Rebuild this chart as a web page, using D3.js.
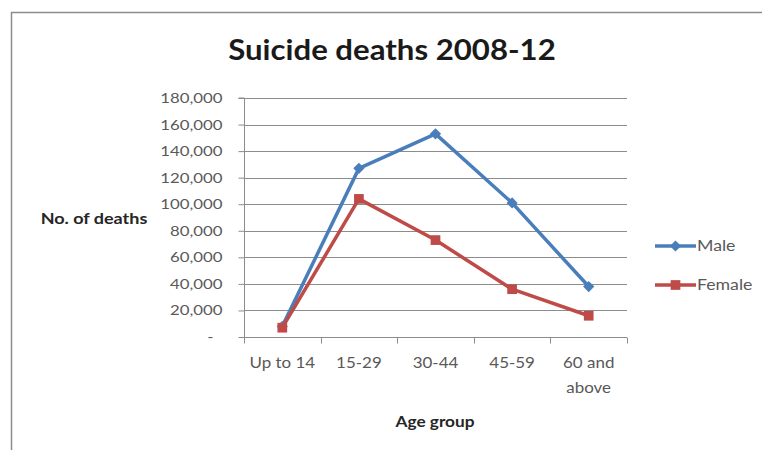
<!DOCTYPE html>
<html>
<head>
<meta charset="utf-8">
<script src="https://cdn.jsdelivr.net/npm/d3@7"></script>
<style>
  html, body { margin: 0; padding: 0; background: #fff; }
  svg { display: block; }
</style>
</head>
<body>
<svg id="chart" width="762" height="450"></svg>
<script>
// Suicide deaths by age group, 2008-12
const ageGroups = ["Up to 14", "15-29", "30-44", "45-59", "60 and above"];
const maleDeaths = [8000, 127000, 153000, 101000, 38000];
const femaleDeaths = [7000, 104000, 73000, 36000, 16000];
const yTicks = [0, 20000, 40000, 60000, 80000, 100000, 120000, 140000, 160000, 180000];

const series = [
  { name: "Male", values: maleDeaths, color: "#4a7ebb", marker: "diamond" },
  { name: "Female", values: femaleDeaths, color: "#be4b48", marker: "square" }
];

const font = "Lato, 'Open Sans', sans-serif";
const svg = d3.select("#chart");

// widen text horizontally about its anchor point
function stretch(sel, sx) {
  sel.each(function () {
    const t = d3.select(this);
    const x0 = +t.attr("x") || 0;
    t.attr("x", 0);
    t.selectAll("tspan").attr("x", 0);
    t.attr("transform", `translate(${x0},0) scale(${sx},1)`);
  });
}

// chart frame
svg.append("path")
  .attr("d", "M11.5,450 V12.5 H762")
  .attr("fill", "none")
  .attr("stroke", "#8c8c8c")
  .attr("stroke-width", 1.5);

const plot = { left: 244, right: 627, top: 98, bottom: 337 };

const x = d3.scaleBand().domain(ageGroups).range([plot.left, plot.right]);
const y = d3.scaleLinear().domain([0, 180000]).range([plot.bottom, plot.top]);

// title
svg.append("text")
  .attr("x", 392).attr("y", 60)
  .attr("text-anchor", "middle")
  .attr("font-family", font).attr("font-weight", 700)
  .attr("font-size", 29).attr("fill", "#1a1a1a")
  .text("Suicide deaths 2008-12")
  .call(stretch, 1.075);

// horizontal gridlines
svg.append("g")
  .selectAll("line")
  .data(yTicks.filter(d => d > 0))
  .join("line")
  .attr("x1", plot.left).attr("x2", plot.right)
  .attr("y1", d => Math.round(y(d)) + 0.5).attr("y2", d => Math.round(y(d)) + 0.5)
  .attr("stroke", "#8c8c8c").attr("stroke-width", 1);

// y axis (accounting-style dash for zero)
const yAxis = svg.append("g")
  .attr("transform", `translate(${plot.left + 0.5},0)`)
  .call(d3.axisLeft(y).tickValues(yTicks).tickSize(6).tickPadding(16)
    .tickFormat(d => d === 0 ? "-" : d3.format(",")(d)));
yAxis.select(".domain").attr("stroke", "#8c8c8c").attr("d", `M-6,${y(180000)}H0V${y(0)}`);
yAxis.selectAll(".tick line").attr("stroke", "#8c8c8c");
yAxis.selectAll(".tick text")
  .attr("font-family", font).attr("font-size", 14).attr("fill", "#595959")
  .attr("x", d => d === 0 ? -31 : -22)
  .call(stretch, 1.2);

// x axis with boundary ticks between categories
const xAxisG = svg.append("g").attr("transform", `translate(0,${Math.round(plot.bottom) + 0.5})`);
xAxisG.append("line")
  .attr("x1", plot.left).attr("x2", plot.right)
  .attr("stroke", "#8c8c8c");
xAxisG.selectAll("line.bound")
  .data(d3.range(ageGroups.length + 1))
  .join("line")
  .attr("class", "bound")
  .attr("x1", i => Math.round(plot.left + i * x.step()) + 0.5)
  .attr("x2", i => Math.round(plot.left + i * x.step()) + 0.5)
  .attr("y1", 0).attr("y2", 6)
  .attr("stroke", "#8c8c8c");

const xLabels = svg.append("g");
ageGroups.forEach(g => {
  const words = g === "60 and above" ? ["60 and", "above"] : [g];
  const t = xLabels.append("text")
    .attr("x", x(g) + x.bandwidth() / 2)
    .attr("y", 368)
    .attr("text-anchor", "middle")
    .attr("font-family", font).attr("font-size", 15).attr("fill", "#595959");
  words.forEach((w, i) => {
    t.append("tspan").attr("x", x(g) + x.bandwidth() / 2).attr("dy", i === 0 ? 0 : 25).text(w);
  });
  t.call(stretch, 1.13);
});

// axis titles
svg.append("text")
  .attr("x", 94).attr("y", 224)
  .attr("text-anchor", "middle")
  .attr("font-family", font).attr("font-weight", 700)
  .attr("font-size", 15).attr("fill", "#262626")
  .text("No. of deaths")
  .call(stretch, 1.2);

svg.append("text")
  .attr("x", 435).attr("y", 427)
  .attr("text-anchor", "middle")
  .attr("font-family", font).attr("font-weight", 700)
  .attr("font-size", 15).attr("fill", "#262626")
  .text("Age group")
  .call(stretch, 1.15);

// lines and markers
const line = d3.line()
  .x((d, i) => x(ageGroups[i]) + x.bandwidth() / 2)
  .y(d => y(d));

const diamond = d3.symbol().type(d3.symbolDiamond2).size(80);
const square = d3.symbol().type(d3.symbolSquare2).size(120);

series.forEach(s => {
  const g = svg.append("g");
  g.append("path")
    .datum(s.values)
    .attr("d", line)
    .attr("fill", "none")
    .attr("stroke", s.color)
    .attr("stroke-width", 3.5)
    .attr("stroke-linejoin", "round");
  g.selectAll("path.marker")
    .data(s.values)
    .join("path")
    .attr("class", "marker")
    .attr("transform", (d, i) => `translate(${x(ageGroups[i]) + x.bandwidth() / 2},${y(d)})`)
    .attr("d", s.marker === "diamond" ? diamond : square)
    .attr("fill", s.color);
});

// legend
const legend = svg.append("g");
series.forEach((s, i) => {
  const ly = 246 + i * 39;
  legend.append("line")
    .attr("x1", 655).attr("x2", 696)
    .attr("y1", ly).attr("y2", ly)
    .attr("stroke", s.color).attr("stroke-width", 3.5);
  legend.append("path")
    .attr("transform", `translate(675.5,${ly})`)
    .attr("d", s.marker === "diamond" ? diamond : square)
    .attr("fill", s.color);
  legend.append("text")
    .attr("x", 697).attr("y", ly + 5)
    .attr("font-family", font).attr("font-size", 15).attr("fill", "#595959")
    .text(s.name)
    .call(stretch, 1.18);
});
</script>
</body>
</html>
